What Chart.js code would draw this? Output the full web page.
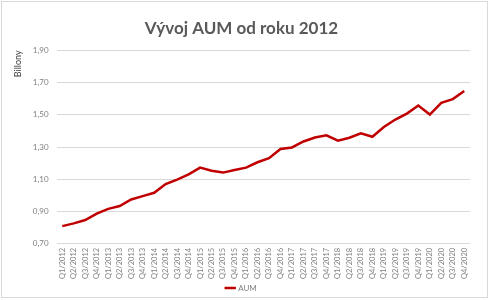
<!DOCTYPE html>
<html>
<head>
<meta charset="utf-8">
<script src="https://cdn.jsdelivr.net/npm/chart.js@4/dist/chart.umd.min.js"></script>
<style>
    html, body { margin: 0; padding: 0; background: #fff; }
    #ramecek {
        position: absolute; left: 1px; top: 1px;
        width: 487px; height: 297px;
        border: 1px solid #d9d9d9; box-sizing: border-box;
    }
    canvas { display: block; }
</style>
</head>
<body>
<div id="ramecek"><canvas id="aum"></canvas></div>
<script>
// Čtvrtletí Q1/2012 – Q4/2020
const kvartaly = [];
for (let rok = 2012; rok <= 2020; rok++) {
    for (let q = 1; q <= 4; q++) kvartaly.push('Q' + q + '/' + rok);
}

// AUM v bilionech
const hodnotyAUM = [
    0.81, 0.827, 0.848, 0.888,
    0.917, 0.935, 0.975, 0.996,
    1.017, 1.071, 1.098, 1.131,
    1.173, 1.154, 1.142, 1.158,
    1.173, 1.206, 1.231, 1.288,
    1.298, 1.335, 1.36, 1.373,
    1.34, 1.358, 1.385, 1.364,
    1.425, 1.471, 1.508, 1.558,
    1.502, 1.575, 1.598, 1.648
];

const osaY = [0.70, 0.90, 1.10, 1.30, 1.50, 1.70, 1.90];

const sedaText = '#7f7f7f';

function nakresli() {
    new Chart(document.getElementById('aum'), {
        type: 'line',
        data: {
            labels: kvartaly,
            datasets: [{
                label: 'AUM',
                data: hodnotyAUM,
                borderColor: '#c00000',
                backgroundColor: '#c00000',
                borderWidth: 2.5,
                pointRadius: 0,
                tension: 0
            }]
        },
        options: {
            responsive: true,
            maintainAspectRatio: false,
            animation: false,
            // legenda má dole 10 px navíc, proto záporný okraj
            layout: { padding: { left: 11, right: 17, top: 4, bottom: -5 } },
            plugins: {
                title: {
                    display: true,
                    text: 'Vývoj AUM od roku 2012',
                    color: '#595959',
                    font: { family: 'Lato', size: 17, weight: 'bold' },
                    padding: { top: 12, bottom: 12 }
                },
                legend: {
                    position: 'bottom',
                    labels: {
                        color: sedaText,
                        font: { family: 'Lato', size: 8 },
                        usePointStyle: true,
                        pointStyle: 'line',
                        boxWidth: 24,
                        padding: 1
                    }
                },
                tooltip: { enabled: false }
            },
            scales: {
                x: {
                    offset: true,
                    grid: { display: false, drawTicks: false, tickLength: 0 },
                    border: { display: false },
                    ticks: {
                        color: sedaText,
                        font: { family: 'Lato', size: 7.5 },
                        autoSkip: false,
                        maxRotation: 90,
                        minRotation: 90,
                        padding: 4
                    }
                },
                y: {
                    min: osaY[0],
                    max: osaY[osaY.length - 1],
                    afterBuildTicks: osa => { osa.ticks = osaY.map(v => ({ value: v })); },
                    grid: { color: '#d9d9d9', drawTicks: false },
                    border: { display: false },
                    ticks: {
                        color: sedaText,
                        font: { family: 'Lato', size: 8 },
                        padding: 8,
                        callback: v => v.toFixed(2).replace('.', ',')
                    },
                    title: {
                        display: true,
                        text: 'Billony',
                        align: 'end',
                        color: '#404040',
                        font: { family: 'Lato', size: 9 },
                        padding: { top: 0, bottom: 1 }
                    }
                }
            }
        }
    });
}

Promise.all([
    document.fonts.load('7.5px Lato'),
    document.fonts.load('bold 17px Lato')
]).then(nakresli, nakresli);
</script>
</body>
</html>
